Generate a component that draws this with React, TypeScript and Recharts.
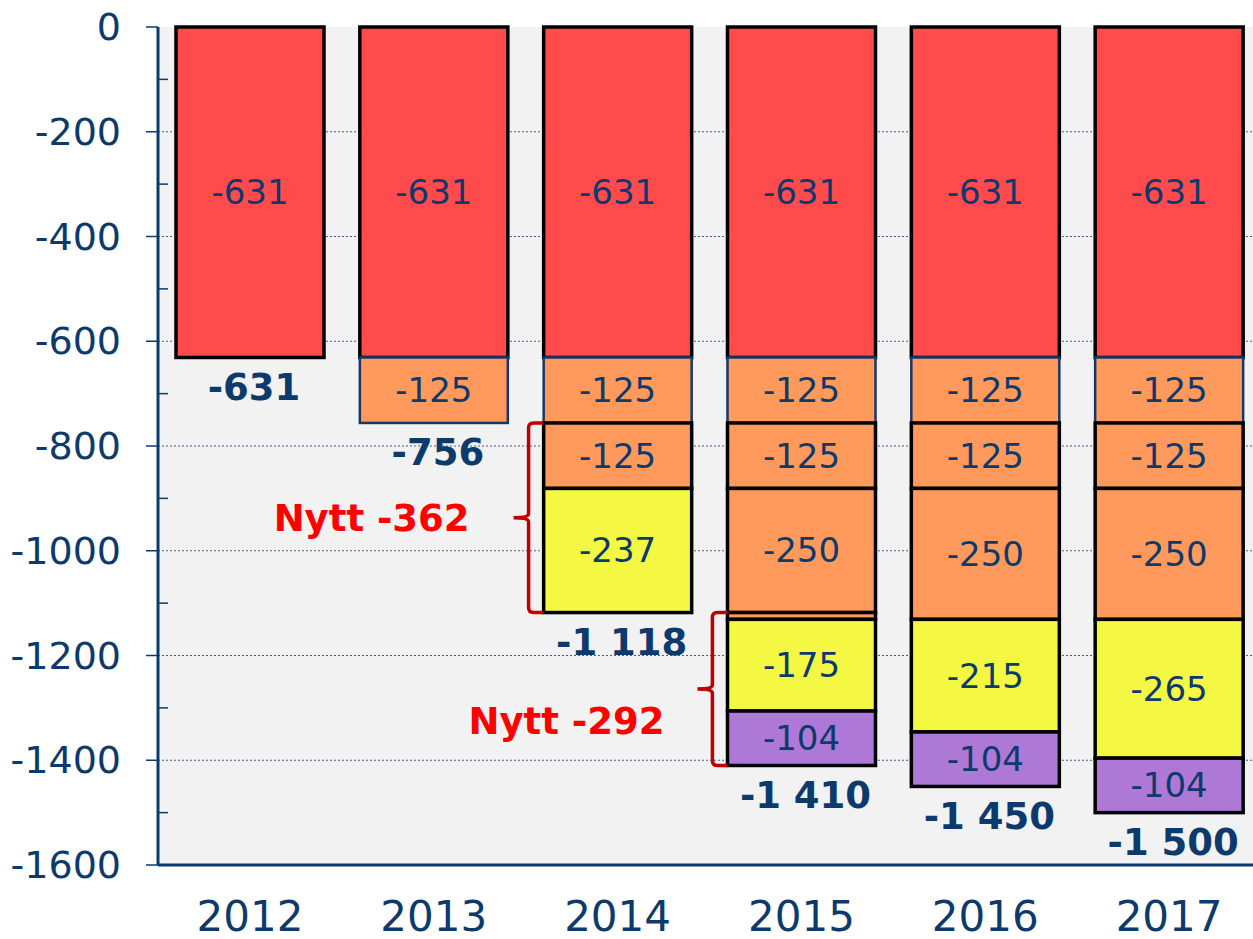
import {
  BarChart,
  Bar,
  XAxis,
  YAxis,
  CartesianGrid,
  LabelList,
  ReferenceLine,
} from 'recharts'

const categories = ['2012', '2013', '2014', '2015', '2016', '2017']
// stacked segments, top to bottom
const base = [-631, -631, -631, -631, -631, -631]
const step1 = [0, -125, -125, -125, -125, -125]
const step2 = [0, 0, -125, -125, -125, -125]
const step3 = [0, 0, 0, -237, -250, -250]
const step3b = [0, 0, 0, -13, 0, 0]
const newA = [0, 0, -237, -175, -215, -265]
const newB = [0, 0, 0, -104, -104, -104]
const totals = [-631, -756, -1118, -1410, -1450, -1500]

// "Nytt" brackets
const nyttCats = ['2014', '2015']
const nyttTop = [-756, -1118]
const nyttBottom = [-1118, -1410]
const nyttValues = [-362, -292]

const yTicks = [
  -1600, -1500, -1400, -1300, -1200, -1100, -1000, -900, -800, -700, -600, -500, -400, -300, -200,
  -100, 0,
]
const gridValues = [-1400, -1200, -1000, -800, -600, -400, -200]

const NAVY = '#0D3A6C'
const FONT = '"DejaVu Sans", Verdana, sans-serif'
const CHART_W = 1262
const PLOT_LEFT = 158
const BAND = (CHART_W - 1 - PLOT_LEFT) / categories.length

const data = categories.map((name, i) => ({
  name,
  base: base[i],
  step1: step1[i],
  step2: step2[i],
  step3: step3[i],
  step3b: step3b[i],
  newA: newA[i],
  newB: newB[i],
  step3Label: step3[i] + step3b[i],
  total: totals[i],
}))

const fmt = (v: number) => {
  const s = Math.abs(v).toString()
  const t = s.length > 3 ? s.slice(0, s.length - 3) + ' ' + s.slice(-3) : s
  return (v < 0 ? '-' : '') + t
}

const seg = (fill: string, stroke: string, sw = 3.5) => (p: any) => {
  const { x, y, width, height } = p
  if (!height) return null
  const top = Math.min(y, y + height)
  return (
    <rect x={x} y={top} width={width} height={Math.abs(height)} fill={fill} stroke={stroke} strokeWidth={sw} />
  )
}

const vb = (p: any) => {
  const v = p.viewBox || p
  const top = Math.min(v.y, v.y + v.height)
  const bottom = Math.max(v.y, v.y + v.height)
  return { cx: v.x + v.width / 2, top, bottom }
}

const segLabel = (p: any) => {
  if (!p.value) return null
  const { cx, top, bottom } = vb(p)
  return (
    <text x={cx} y={(top + bottom) / 2} textAnchor="middle" dominantBaseline="central" fill={NAVY} fontSize={34} fontFamily={FONT}>
      {p.value}
    </text>
  )
}

const totalLabel = (p: any) => {
  const { cx, bottom } = vb(p)
  return (
    <text x={cx + 4} y={bottom + 30} textAnchor="middle" dominantBaseline="central" fill={NAVY} fontSize={37} fontWeight="bold" fontFamily={FONT}>
      {fmt(p.value)}
    </text>
  )
}

const YTick = (p: any) => {
  const { x, y, payload } = p
  const v = payload.value
  if (v % 200 !== 0) {
    return <line x1={x} x2={x + 10} y1={y} y2={y} stroke={NAVY} strokeWidth={1.5} />
  }
  return (
    <g>
      <line x1={x - 12} x2={x} y1={y} y2={y} stroke={NAVY} strokeWidth={1.5} />
      <text x={x - 37} y={y} textAnchor="end" dominantBaseline="central" fill={NAVY} fontSize={38} fontFamily={FONT}>
        {v}
      </text>
    </g>
  )
}

const XTick = (p: any) => (
  <text x={p.x} y={p.y + 51} textAnchor="middle" dominantBaseline="central" fill={NAVY} fontSize={42} fontFamily={FONT}>
    {p.payload.value}
  </text>
)

const TopTick = (p: any) => {
  if (p.index === 0) return null
  const bx = p.x - BAND / 2
  return <line x1={bx} x2={bx} y1={p.y} y2={p.y + 13} stroke={NAVY} strokeWidth={1.5} />
}

// curly bracket left of the bar, with the "Nytt" text
const braceShape = (value: number, dx: number, dy: number) => (p: any) => {
  const xv = p.x1 - 89
  const top = Math.min(p.y1, p.y2)
  const bottom = Math.max(p.y1, p.y2)
  const mid = (top + bottom) / 2
  const xr = xv + 15
  const d = `M${xr},${top} L${xv + 5},${top} Q${xv},${top} ${xv},${top + 5} L${xv},${mid - 4} Q${xv},${mid} ${xv - 15},${mid} Q${xv},${mid} ${xv},${mid + 4} L${xv},${bottom - 5} Q${xv},${bottom} ${xv + 5},${bottom} L${xr},${bottom}`
  return (
    <g>
      <path d={d} fill="none" stroke="#C00000" strokeWidth={3.5} />
      <text x={xv - 15 - dx} y={mid + dy} textAnchor="end" dominantBaseline="central" fill="#FF0000" fontSize={37} fontWeight="bold" fontFamily={FONT}>
        Nytt {value}
      </text>
    </g>
  )
}
const braceOffsets = [
  { dx: 44, dy: 1 },
  { dx: 33, dy: 32 },
]

export default function App() {
  return (
    <div style={{ position: 'fixed', left: 0, top: 0, width: 1253, height: 939, overflow: 'hidden', background: '#fff' }}>
      <BarChart
        width={CHART_W}
        height={939}
        data={data}
        margin={{ top: 27, right: 1, bottom: 0, left: 0 }}
        barSize={148}
      >
        <CartesianGrid
          vertical={false}
          horizontalValues={gridValues}
          fill="#F2F2F2"
          fillOpacity={1}
          stroke="#3F6190"
          strokeDasharray="2 2"
          strokeWidth={1}
        />
        <XAxis
          dataKey="name"
          height={74}
          axisLine={{ stroke: NAVY, strokeWidth: 3 }}
          tickLine={false}
          tickSize={0}
          tickMargin={0}
          tick={<XTick />}
          interval={0}
        />
        <XAxis
          xAxisId="top"
          dataKey="name"
          orientation="top"
          height={0}
          axisLine={{ stroke: NAVY, strokeWidth: 3 }}
          tickLine={false}
          tickSize={0}
          tickMargin={0}
          tick={<TopTick />}
          interval={0}
        />
        <YAxis
          width={158}
          domain={[-1600, 0]}
          ticks={yTicks}
          interval={0}
          axisLine={{ stroke: NAVY, strokeWidth: 3 }}
          tickLine={false}
          tickSize={0}
          tickMargin={0}
          tick={<YTick />}
        />
        <Bar dataKey="base" stackId="a" isAnimationActive={false} shape={seg('#FF4B4B', '#000')}>
          <LabelList dataKey="base" content={segLabel} />
        </Bar>
        <Bar dataKey="step1" stackId="a" isAnimationActive={false} shape={seg('#FF9A5C', '#17376A', 2.5)}>
          <LabelList dataKey="step1" content={segLabel} />
        </Bar>
        <Bar dataKey="step2" stackId="a" isAnimationActive={false} shape={seg('#FF9A5C', '#000')}>
          <LabelList dataKey="step2" content={segLabel} />
        </Bar>
        <Bar dataKey="step3" stackId="a" isAnimationActive={false} shape={seg('#FF9A5C', '#000')}>
          <LabelList dataKey="step3Label" content={segLabel} />
        </Bar>
        <Bar dataKey="step3b" stackId="a" isAnimationActive={false} shape={seg('#FF9A5C', '#000')} />
        <Bar dataKey="newA" stackId="a" isAnimationActive={false} shape={seg('#F5F843', '#000')}>
          <LabelList dataKey="newA" content={segLabel} />
        </Bar>
        <Bar dataKey="newB" stackId="a" isAnimationActive={false} shape={seg('#AE78D6', '#000')}>
          <LabelList dataKey="newB" content={segLabel} />
          <LabelList dataKey="total" content={totalLabel} />
        </Bar>
        {nyttCats.map((c, i) => (
          <ReferenceLine
            key={c}
            segment={[
              { x: c, y: nyttTop[i] },
              { x: c, y: nyttBottom[i] },
            ]}
            shape={braceShape(nyttValues[i], braceOffsets[i].dx, braceOffsets[i].dy)}
          />
        ))}
      </BarChart>
    </div>
  )
}
